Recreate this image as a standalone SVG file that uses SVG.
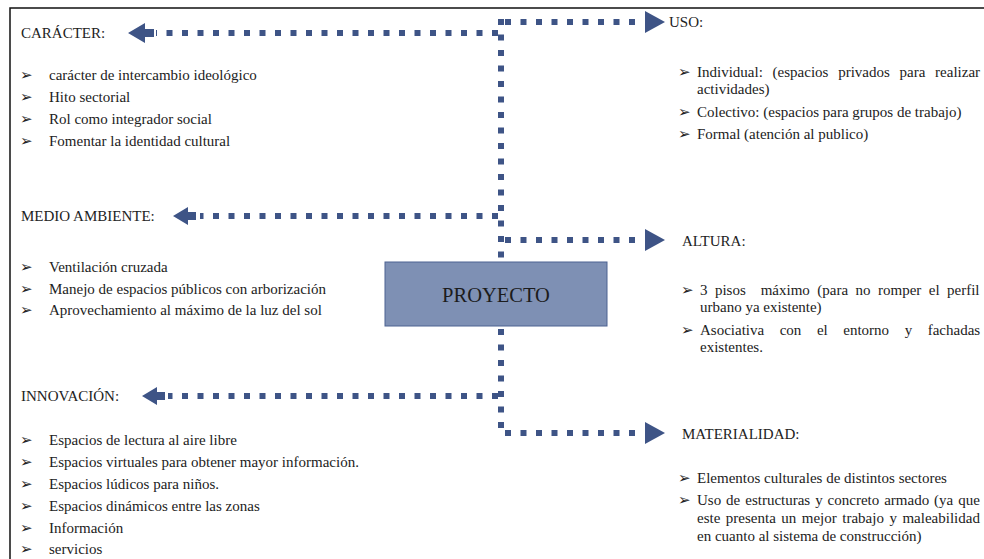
<svg xmlns="http://www.w3.org/2000/svg" width="984" height="559" viewBox="0 0 984 559">
<style>
.lbl{font-family:"Liberation Serif","Times New Roman",serif;font-size:15px;fill:#222}
.txt{font-family:"Liberation Serif","Times New Roman",serif;font-size:15px;fill:#222}
.bul{font-family:"DejaVu Sans",sans-serif;font-size:15px;fill:#222}
.dash{stroke:#3e5486;stroke-width:6;stroke-dasharray:6 9.5;fill:none}
.head{fill:#3e5486}
.frame{stroke:#111;stroke-width:1.5;fill:none}
</style>
<rect width="984" height="559" fill="#ffffff"/>
<path class="frame" d="M10,559 L10,8 L984,8"/>
<g id="connectors">
<line class="dash" x1="501" y1="19" x2="501" y2="436"/>
<line class="dash" x1="498" y1="33" x2="156" y2="33"/>
<polygon class="head" points="128,33 145,23 145,29 154,29 154,37 145,37 145,43"/>
<line class="dash" x1="505" y1="22" x2="642" y2="22"/>
<polygon class="head" points="665,22 645,11 645,33"/>
<line class="dash" x1="498" y1="216" x2="200" y2="216"/>
<polygon class="head" points="173,216 188,207 188,212 196,212 196,220 188,220 188,225"/>
<line class="dash" x1="505" y1="240" x2="642" y2="240"/>
<polygon class="head" points="665,240 645,229 645,251"/>
<line class="dash" x1="498" y1="396" x2="168" y2="396"/>
<polygon class="head" points="142,396 157,387 157,392 165,392 165,400 157,400 157,405"/>
<line class="dash" x1="505" y1="433" x2="642" y2="433"/>
<polygon class="head" points="665,433 645,422 645,444"/>
</g>
<g id="proyecto">
<rect x="385" y="262" width="222" height="64" fill="#7e90b4" stroke="#4d6291" stroke-width="1"/>
<text x="496" y="302" text-anchor="middle" font-family="Liberation Serif, Times New Roman, serif" font-size="20.5" fill="#1c1c1c">PROYECTO</text>
</g>
<g id="caracter">
<text class="lbl" x="21" y="38">CARÁCTER:</text>
<text class="bul" x="20" y="80">➢</text><text class="txt" x="49" y="80">carácter de intercambio ideológico</text>
<text class="bul" x="20" y="102">➢</text><text class="txt" x="49" y="102">Hito sectorial</text>
<text class="bul" x="20" y="124">➢</text><text class="txt" x="49" y="124">Rol como integrador social</text>
<text class="bul" x="20" y="146">➢</text><text class="txt" x="49" y="146">Fomentar la identidad cultural</text>
</g>
<g id="medio-ambiente">
<text class="lbl" x="21" y="221">MEDIO AMBIENTE:</text>
<text class="bul" x="20" y="272">➢</text><text class="txt" x="49" y="272">Ventilación cruzada</text>
<text class="bul" x="20" y="294">➢</text><text class="txt" x="49" y="294">Manejo de espacios públicos con arborización</text>
<text class="bul" x="20" y="315">➢</text><text class="txt" x="49" y="315">Aprovechamiento al máximo de la luz del sol</text>
</g>
<g id="innovacion">
<text class="lbl" x="21" y="401">INNOVACIÓN:</text>
<text class="bul" x="20" y="445">➢</text><text class="txt" x="49" y="445">Espacios de lectura al aire libre</text>
<text class="bul" x="20" y="467">➢</text><text class="txt" x="49" y="467">Espacios virtuales para obtener mayor información.</text>
<text class="bul" x="20" y="489">➢</text><text class="txt" x="49" y="489">Espacios lúdicos para niños.</text>
<text class="bul" x="20" y="511">➢</text><text class="txt" x="49" y="511">Espacios dinámicos entre las zonas</text>
<text class="bul" x="20" y="533">➢</text><text class="txt" x="49" y="533">Información</text>
<text class="bul" x="20" y="554">➢</text><text class="txt" x="49" y="554">servicios</text>
</g>
<g id="uso">
<text class="lbl" x="669" y="27">USO:</text>
<text class="bul" x="678" y="77">➢</text><text class="txt" x="697" y="77" word-spacing="6">Individual: (espacios privados para realizar</text>
<text class="txt" x="697" y="94">actividades)</text>
<text class="bul" x="678" y="117">➢</text><text class="txt" x="697" y="117">Colectivo: (espacios para grupos de trabajo)</text>
<text class="bul" x="678" y="139">➢</text><text class="txt" x="697" y="139">Formal (atención al publico)</text>
</g>
<g id="altura">
<text class="lbl" x="682" y="246">ALTURA:</text>
<text class="bul" x="681" y="295">➢</text><text class="txt" x="700" y="295" word-spacing="3.7" xml:space="preserve">3 pisos  máximo (para no romper el perfil</text>
<text class="txt" x="700" y="312">urbano ya existente)</text>
<text class="bul" x="681" y="335">➢</text><text class="txt" x="700" y="335" word-spacing="11.8">Asociativa con el entorno y fachadas</text>
<text class="txt" x="700" y="352">existentes.</text>
</g>
<g id="materialidad">
<text class="lbl" x="682" y="439">MATERIALIDAD:</text>
<text class="bul" x="678" y="483">➢</text><text class="txt" x="697" y="483">Elementos culturales de distintos sectores</text>
<text class="bul" x="678" y="505">➢</text><text class="txt" x="697" y="505" word-spacing="1.2">Uso de estructuras y concreto armado (ya que</text>
<text class="txt" x="697" y="523" word-spacing="1.75">este presenta un mejor trabajo y maleabilidad</text>
<text class="txt" x="697" y="541">en cuanto al sistema de construcción)</text>
</g>
</svg>
